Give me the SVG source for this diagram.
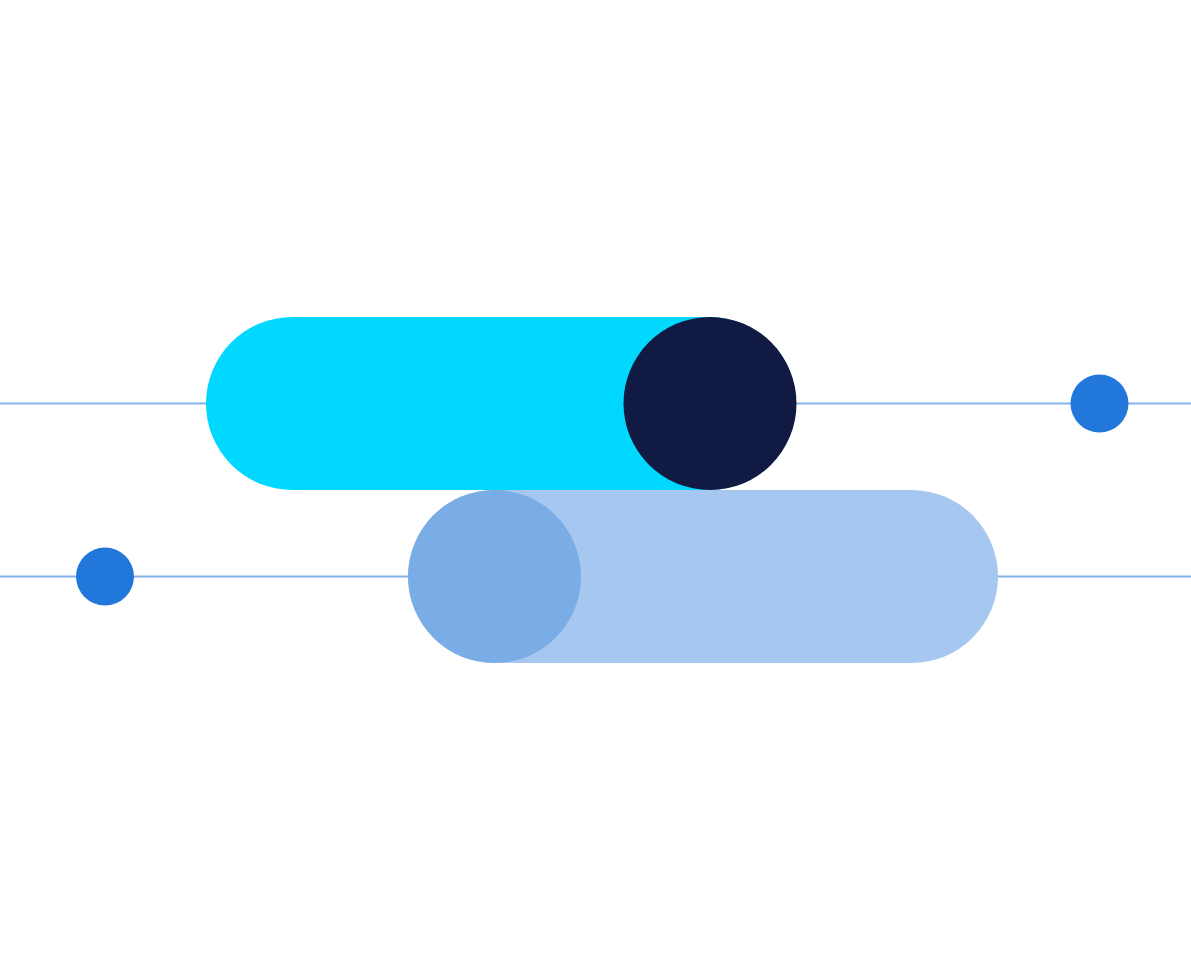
<svg xmlns="http://www.w3.org/2000/svg" width="1191" height="980" viewBox="0 0 1191 980">
<style>.ln{stroke:#85B3EA;stroke-width:2}.dot{fill:#2277DB}</style>
<rect width="1191" height="980" fill="#FFFFFF"/>
<line class="ln" x1="0" y1="403.5" x2="1191" y2="403.5"/>
<line class="ln" x1="0" y1="576.5" x2="1191" y2="576.5"/>
<rect x="206" y="317" width="590" height="173" rx="86.5" fill="#00D8FF"/>
<circle cx="710" cy="403.5" r="86.5" fill="#111A42"/>
<rect x="408" y="490" width="590" height="173" rx="86.5" fill="#A6C8F0"/>
<circle cx="494.5" cy="576.5" r="86.5" fill="#7AACE6"/>
<circle class="dot" cx="1099.5" cy="403.5" r="29"/>
<circle class="dot" cx="105" cy="576.5" r="29"/>
</svg>
